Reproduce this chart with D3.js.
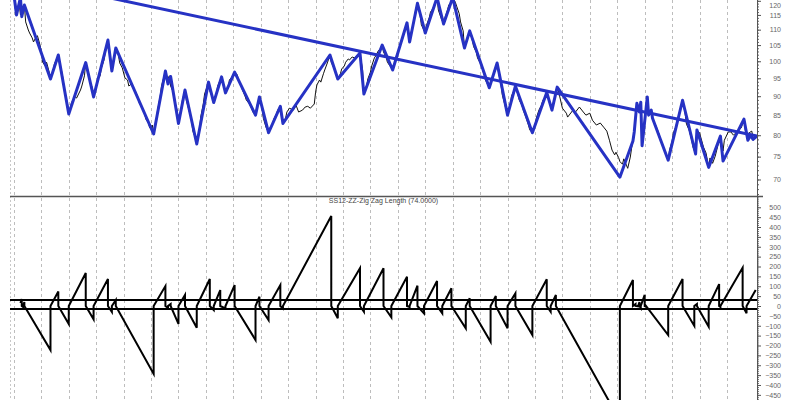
<!DOCTYPE html>
<html><head><meta charset="utf-8">
<script src="https://cdn.jsdelivr.net/npm/d3@7"></script>
<style>body{margin:0;background:#fff}svg{display:block;font-family:"Liberation Sans",Arial,sans-serif}</style>
</head><body>
<svg id="c" width="800" height="400"></svg>
<script>
// ---- data (x = trading-bar index, 21 bars per month grid) ----
const monthBars = d3.range(0, 547, 21);
const priceTicks = [70,75,80,85,90,95,100,105,110,115,120];
const lengthTicks = d3.range(-450, 501, 50);
const title = "SS12-ZZ-Zig Zag Length (74.0000)";
const bandLevels = [30, -15];
const trendBars = [0, 569];
const trendValues = [128.8, 79.8];

const price = [[1,120.3],[2,115.7],[4,119.2],[5,115.0],[8,118.5],[9,112.6],[11,109.9],[12,108.9],[14,107.3],[15,106.0],[17,107.6],[18,108.0],[20,105.0],[21,102.8],[22,99.7],[24,98.6],[25,99.7],[27,96.8],[28,94.8],[30,96.8],[31,99.2],[34,101.9],[35,99.2],[37,96.3],[39,91.1],[41,88.1],[42,85.3],[44,88.1],[45,88.9],[47,89.8],[48,89.5],[51,91.7],[52,92.8],[54,95.7],[55,99.6],[57,96.8],[58,94.5],[60,92.3],[61,89.8],[63,92.3],[64,94.5],[66,95.7],[67,98.0],[69,100.4],[70,102.8],[72,106.6],[74,101.0],[75,97.1],[77,101.6],[78,104.1],[80,101.9],[81,99.5],[83,98.0],[85,95.1],[87,94.5],[88,92.8],[90,93.4],[91,92.3],[93,91.4],[95,89.7],[96,88.1],[98,87.1],[100,85.5],[101,84.0],[103,83.0],[104,81.8],[106,82.5],[107,80.3],[109,83.2],[110,86.3],[112,89.9],[113,92.8],[116,97.1],[117,93.9],[119,95.7],[120,92.8],[122,91.1],[123,88.6],[125,86.3],[126,82.9],[128,86.3],[129,88.9],[131,91.7],[132,88.9],[134,86.3],[136,83.7],[137,81.0],[139,79.3],[140,77.9],
[142,80.6],[143,84.5],[145,87.9],[146,90.6],[149,93.9],[150,91.4],[152,89.7],[153,88.3],[155,90.6],[156,92.8],[158,94.5],[159,95.4],[161,92.8],[162,90.9],[164,92.3],[165,94.5],[167,95.4],[169,96.8],[171,96.0],[172,94.5],[174,92.8],[175,91.7],[177,90.0],[178,88.9],[180,88.1],[182,86.8],[183,85.8],[185,85.0],[186,87.3],[188,89.8],[190,86.8],[191,84.2],[193,82.0],[195,80.6],[196,81.8],[198,82.7],[199,84.0],[201,85.3],[202,86.3],[204,87.3],[205,84.2],[206,82.9],[208,84.2],[209,85.8],[211,86.8],[214,86.3],[216,87.6],[218,85.8],[221,86.3],[223,87.1],[225,87.3],[227,86.8],[230,87.9],[231,91.1],[232,93.1],[234,94.5],[235,93.9],[237,96.3],[238,97.4],[240,99.5],[242,101.9],[243,99.7],[245,98.0],[247,96.3],[248,94.8],[250,96.3],[251,97.7],[253,98.6],[254,99.7],[256,100.7],[257,100.4],[259,101.3],[261,101.0],[263,101.9],[265,102.5],[267,97.4],[268,90.6],[270,92.8],[271,94.8],[273,96.8],[274,98.6],[276,101.0],[277,101.6],[279,103.2],[281,104.1],[282,105.0],[283,102.8],[285,101.3],[286,99.7],[288,98.6],[290,97.4],[292,99.7],[293,101.9],[295,103.8],[296,105.0],[298,107.6],[299,109.9],[301,112.3],
[303,106.0],[304,108.9],[306,111.9],[307,115.4],[309,119.1],[311,115.0],[312,111.6],[315,108.9],[316,111.6],[318,114.0],[319,116.0],[321,117.4],[322,118.8],[324,121.2],[325,116.7],[327,114.0],[329,111.9],[330,114.0],[332,116.7],[333,118.5],[335,119.5],[336,121.2],[338,119.5],[339,118.1],[341,115.4],[342,112.6],[344,109.6],[345,104.1],[347,106.6],[349,109.6],[351,106.6],[352,104.5],[354,102.8],[355,101.0],[357,99.5],[358,98.6],[360,96.0],[361,94.5],[363,93.1],[364,92.3],[366,94.5],[368,97.4],[370,99.5],[371,96.8],[373,93.1],[374,90.3],[376,87.6],[378,85.0],[380,87.6],[381,90.0],[383,91.7],[384,92.8],[386,90.3],[387,88.9],[389,87.6],[390,86.3],[392,84.5],[394,82.5],[395,81.3],[397,80.6],[399,82.5],[400,84.2],[402,86.3],[404,87.6],[405,88.9],[407,89.8],[408,91.0],[410,88.6],[412,86.3],[414,88.9],[416,92.5],
[418,89.8],[420,86.8],[423,85.5],[424,84.5],[427,85.8],[428,86.3],[430,85.8],[433,87.1],[436,85.8],[438,85.0],[441,85.5],[443,83.7],[446,82.5],[449,83.0],[452,81.8],[454,81.0],[456,78.8],[458,76.5],[460,75.4],[461,76.0],[463,74.8],[464,73.9],[466,73.3],[467,74.5],[469,73.1],[470,72.4],[472,74.9],[473,77.0],[475,80.0],[477,88.1],[479,85.8],[480,88.4],[481,77.5],[483,83.7],[485,89.8],[486,85.0],[488,86.3],[489,84.2],[491,82.7],[492,82.0],[494,80.3],[495,78.8],[497,77.5],[498,76.5],[501,74.2],[502,76.5],[504,78.6],[505,80.6],[507,82.2],[508,83.7],[510,86.0],[512,88.9],[514,85.3],[515,82.7],[517,81.3],[519,78.8],[520,77.2],[522,75.6],[523,81.3],[525,80.6],[528,77.2],[530,75.8],[532,72.6],[533,74.7],[535,73.5],[537,75.1],[539,77.5],[541,79.8],[543,76.3],[544,78.8],[547,80.8],[549,80.8],[551,80.0],[555,81.3],[557,81.8],[559,84.0],[560,81.3],[562,78.8],[563,80.6],[565,81.0],[566,79.3],[568,80.0],[569,79.8]];

const zigzag = [[0,122.2],[2,115.0],[5,121.2],[6,114.4],[8,118.5],[28,94.8],[34,101.9],[42,85.3],[55,99.6],[61,89.8],[72,106.6],[75,97.1],[78,104.1],[107,80.3],[116,97.1],[118,93.4],[120,95.5],[126,82.9],[131,91.7],[140,77.9],[149,93.9],[153,88.3],[159,95.4],[162,90.9],[169,96.8],[185,85.0],[188,89.8],[195,80.6],[204,87.3],[206,82.9],[242,101.9],[248,94.8],[265,102.5],[268,90.6],[282,105.0],[290,97.4],[301,112.3],[303,106.0],[309,119.1],[315,108.9],[324,121.2],[329,111.9],[336,121.2],[345,104.1],[349,109.6],[364,92.3],[370,99.5],[378,85.0],[384,92.8],[397,80.6],[408,91.0],[412,86.3],[416,92.5],[464,70.5],[474,78.6],[475,80.8],[477,88.1],[479,85.8],[480,88.4],[481,77.5],[485,89.8],[486,85.0],[488,86.3],[489,84.2],[501,74.2],[512,88.9],[522,75.6],[523,81.3],[532,72.6],[541,79.8],[543,74.0],[559,84.0],[562,78.8],[564,80.0],[566,79.0],[569,79.8]];

// zig-zag length indicator: [bar at end of leg, length reached]
const lengthStart = [5, 15];
const lengthLegs = [[6,35],[7,-5],[8,20],[28,-223],[34,73],[42,-91],[55,167],[61,-67],[72,137],[75,-30],[78,30],[107,-344],[116,101],[118,-10],[120,10],[126,-91],[131,56],[140,-110],[150,137],[153,-20],[158,81],[162,-12],[169,106],[185,-172],[188,47],[195,-71],[204,106],[206,-12],[243,456],[248,-62],[265,191],[268,-29],[283,191],[289,-57],[301,148],[303,-5],[309,103],[314,-37],[324,127],[328,-37],[335,90],[346,-113],[349,39],[365,-181],[369,51],[378,-113],[384,64],[397,-147],[408,135],[411,-29],[415,56],[464,-580],[474,132],[476,10],[478,-2],[479,20],[480,-10],[483,56],[484,-3],[501,-147],[512,137],[521,-101],[523,10],[532,-105],[540,111],[541,-5],[558,194],[561,-37],[568,81]];

// ---- layout ----
const L = 10, R = 757, topH = 196, botTop = 197, H = 400;
const blue = "#2632c4";
const svg = d3.select("#c");
svg.append("rect").attr("width",800).attr("height",400).attr("fill","#fff");

const x = d3.scaleLinear().domain([-3, 569]).range([L, R]);
const yTop = d3.scaleLog().domain([66.6, 120.3]).range([topH, 0]);
const yBot = d3.scaleLinear().domain([-476, 552]).range([H, botTop]);

const defs = svg.append("defs");
defs.append("clipPath").attr("id","clipTop").append("rect").attr("x",L).attr("y",0).attr("width",R-L).attr("height",topH);
defs.append("clipPath").attr("id","clipBot").append("rect").attr("x",L).attr("y",botTop).attr("width",R-L).attr("height",H-botTop);

// vertical month grid
svg.append("g").selectAll("line").data(monthBars).join("line")
  .attr("x1",d=>Math.round(x(d))+0.5).attr("x2",d=>Math.round(x(d))+0.5)
  .attr("y1",0).attr("y2",H)
  .attr("stroke","#bdbdbd").attr("stroke-width",1).attr("stroke-dasharray","3,3");
svg.append("line").attr("x1",L+0.5).attr("x2",L+0.5).attr("y1",0).attr("y2",H)
  .attr("stroke","#c8c8c8").attr("stroke-dasharray","2,2");

// ---- top panel ----
const gTop = svg.append("g").attr("clip-path","url(#clipTop)");
const lineTop = d3.line().x(d=>x(d[0])).y(d=>yTop(d[1]));
gTop.append("path").datum(price).attr("d",lineTop)
  .attr("fill","none").attr("stroke","#111").attr("stroke-width",1);
gTop.append("path").datum(zigzag).attr("d",lineTop)
  .attr("fill","none").attr("stroke",blue).attr("stroke-width",3).attr("stroke-linejoin","round");
gTop.append("path").datum(trendBars.map((b,i)=>[b,trendValues[i]])).attr("d",lineTop)
  .attr("fill","none").attr("stroke",blue).attr("stroke-width",3);

// ---- bottom panel ----
const gBot = svg.append("g").attr("clip-path","url(#clipBot)");
gBot.selectAll("line.band").data(bandLevels).join("line")
  .attr("x1",L).attr("x2",R).attr("y1",d=>yBot(d)).attr("y2",d=>yBot(d))
  .attr("stroke","#000").attr("stroke-width",2);
const lenPts = [lengthStart];
lengthLegs.forEach((d,i)=>{ lenPts.push(d); if(i<lengthLegs.length-1) lenPts.push([d[0],0]); });
gBot.append("path").datum(lenPts)
  .attr("d",d3.line().x(d=>x(d[0])).y(d=>yBot(d[1])))
  .attr("fill","none").attr("stroke","#000").attr("stroke-width",2).attr("stroke-linejoin","miter");

svg.append("text").attr("x",(L+R)/2).attr("y",203).attr("text-anchor","middle")
  .attr("font-size",7).attr("fill","#444").text(title);

// separator
svg.append("line").attr("x1",L).attr("x2",R+6).attr("y1",topH+0.5).attr("y2",topH+0.5)
  .attr("stroke","#555").attr("stroke-width",1.5);

// ---- right axes ----
function styleAxis(g){
  g.select(".domain").attr("stroke","#555");
  g.selectAll(".tick line").attr("stroke","#555");
  g.selectAll(".tick text").attr("font-size",7).attr("fill","#666")
    .attr("text-anchor","end").attr("x",24).attr("font-family","Liberation Sans, Arial, sans-serif");
}
const minorTop = d3.range(67, 121, 1);
svg.append("g").attr("transform",`translate(${R},0)`)
  .call(d3.axisRight(yTop).tickValues(minorTop).tickSize(2).tickFormat(""))
  .call(g=>{g.select(".domain").remove(); g.selectAll("line").attr("stroke","#666");});
svg.append("g").attr("transform",`translate(${R},0)`)
  .call(d3.axisRight(yTop).tickValues(priceTicks).tickSize(4).tickFormat(d3.format("d")))
  .call(g=>g.select(".domain").remove())
  .call(styleAxis)
  .call(g=>g.selectAll(".tick text").filter(d=>d===120).attr("dy","0.95em"));

const minorBot = d3.range(-470, 551, 10);
svg.append("g").attr("transform",`translate(${R},0)`)
  .call(d3.axisRight(yBot).tickValues(minorBot).tickSize(2).tickFormat(""))
  .call(g=>{g.select(".domain").remove(); g.selectAll("line").attr("stroke","#777");});
svg.append("g").attr("transform",`translate(${R},0)`)
  .call(d3.axisRight(yBot).tickValues(lengthTicks).tickSize(4).tickFormat(d3.format("d")))
  .call(g=>g.select(".domain").remove())
  .call(styleAxis);

svg.append("line").attr("x1",R+0.5).attr("x2",R+0.5).attr("y1",0).attr("y2",H)
  .attr("stroke","#555").attr("stroke-width",1);
</script>
</body></html>
